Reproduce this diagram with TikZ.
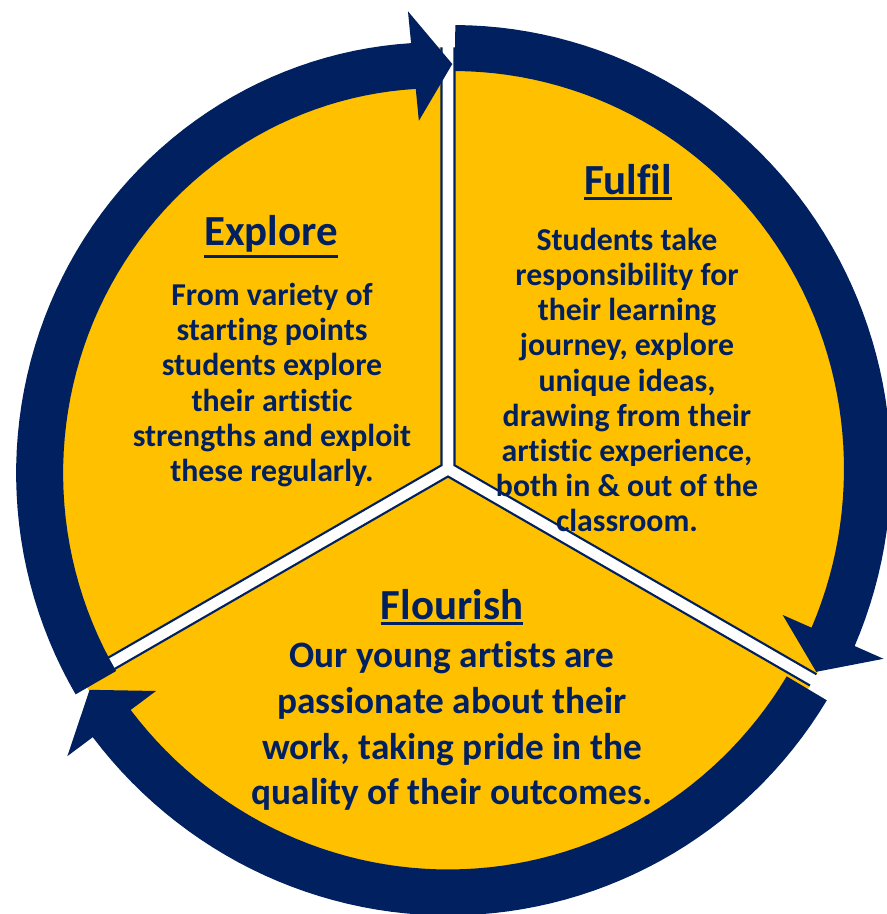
\documentclass[tikz,border=0pt]{standalone}
\usepackage{fontspec}
\setmainfont{Carlito}[Ligatures=NoCommon]
\usetikzlibrary{calc, positioning}

\definecolor{navy}{HTML}{002060}
\definecolor{gold}{HTML}{FFC000}

% underlined heading
\newsavebox{\ttlbox}
\newcommand{\ttlline}[1]{\sbox{\ttlbox}{#1}\rlap{\raisebox{\dimexpr-\dp\ttlbox-1.6pt\relax}{\rule{\wd\ttlbox}{0.85pt}}}\usebox{\ttlbox}}

% #1 start angle, #2 angle of head base, #3 tip angle, #4 drift of radius
\newcommand{\ringarrow}[4]{%
	\fill[ring arrow]
		plot[domain=#1:#2, samples=60] (\x:{438+(#4)*((\x-(#1))/((#2)-(#1)))^2} and {444+(#4)*((\x-(#1))/((#2)-(#1)))^2})
		-- (#2:{469.5+(#4)} and {476+(#4)})
		-- (#3:{414.5+(#4)} and {421+(#4)})
		-- (#2:{359.5+(#4)} and {366+(#4)})
		-- plot[domain=#2:#1, samples=60] (\x:{391+(#4)*((\x-(#1))/((#2)-(#1)))^2} and {398+(#4)*((\x-(#1))/((#2)-(#1)))^2})
		-- cycle;}

\begin{document}
\begin{tikzpicture}[x=0.01cm, y=0.01cm]
	
	\tikzset{sector/.style={fill=gold},
		sector edge/.style={draw=navy, line width=0.6pt},
		ring arrow/.style={fill=navy},
		heading/.style={text=navy, font=\fontsize{12.2}{14}\selectfont\bfseries, align=center},
		blurb/.style={text=navy, font=\fontsize{9.05}{10}\selectfont\bfseries, align=center, inner sep=0pt},
		big blurb/.style={blurb, font=\fontsize{10.6}{13}\selectfont\bfseries}
	}
	
	\useasboundingbox (-453,-445) rectangle (434,469);
	
	% centre of the three pieces
	\coordinate (O) at (-5,0);
	\coordinate (cE) at ($(O)+(150:7.5)$);
	\coordinate (cF) at ($(O)+(30:7.5)$);
	\coordinate (cL) at ($(O)+(270:7.5)$);
	
	% yellow pieces
	\fill[sector] (cE) -- ++(90:418) arc[start angle=90, end angle=210, radius=418] -- cycle;
	\fill[sector] (cF) -- ++(-30:418) arc[start angle=-30, end angle=90, radius=418] -- cycle;
	\fill[sector] (cL) -- ++(210:418) arc[start angle=210, end angle=330, radius=418] -- cycle;
	\draw[sector edge] ($(cE)+(90:418)$) -- (cE) -- ($(cE)+(210:418)$);
	\draw[sector edge] ($(cF)+(-30:418)$) -- (cF) -- ($(cF)+(90:418)$);
	\draw[sector edge] ($(cL)+(210:418)$) -- (cL) -- ($(cL)+(330:418)$);
	
	% arrows round the circle
	\ringarrow{210.5}{95.7}{90.1}{-16}
	\ringarrow{89.7}{-23.5}{-28.8}{0}
	\ringarrow{-31.4}{-143.7}{-149.1}{9}
	
	% texts
	\node[heading] (explore) at (-182,232) {\ttlline{Explore}};
	\node[blurb] (exploretext) at (-181,84) {From variety of\\starting points\\students explore\\their artistic\\strengths and exploit\\these regularly.};
	
	\node[heading] (fulfil) at (175,287) {\ttlline{Fulfil}};
	\node[blurb] (fulfiltext) at (174,89) {Students take\\responsibility for\\their learning\\journey, explore\\unique ideas,\\drawing from their\\artistic experience,\\both in \& out of the\\classroom.};
	
	\node[heading] (flourish) at (-1,-138) {\ttlline{Flourish}};
	\node[big blurb] (flourishtext) at (-1,-257) {Our young artists are\\passionate about their\\work, taking pride in the\\quality of their outcomes.};
	
\end{tikzpicture}
\end{document}
